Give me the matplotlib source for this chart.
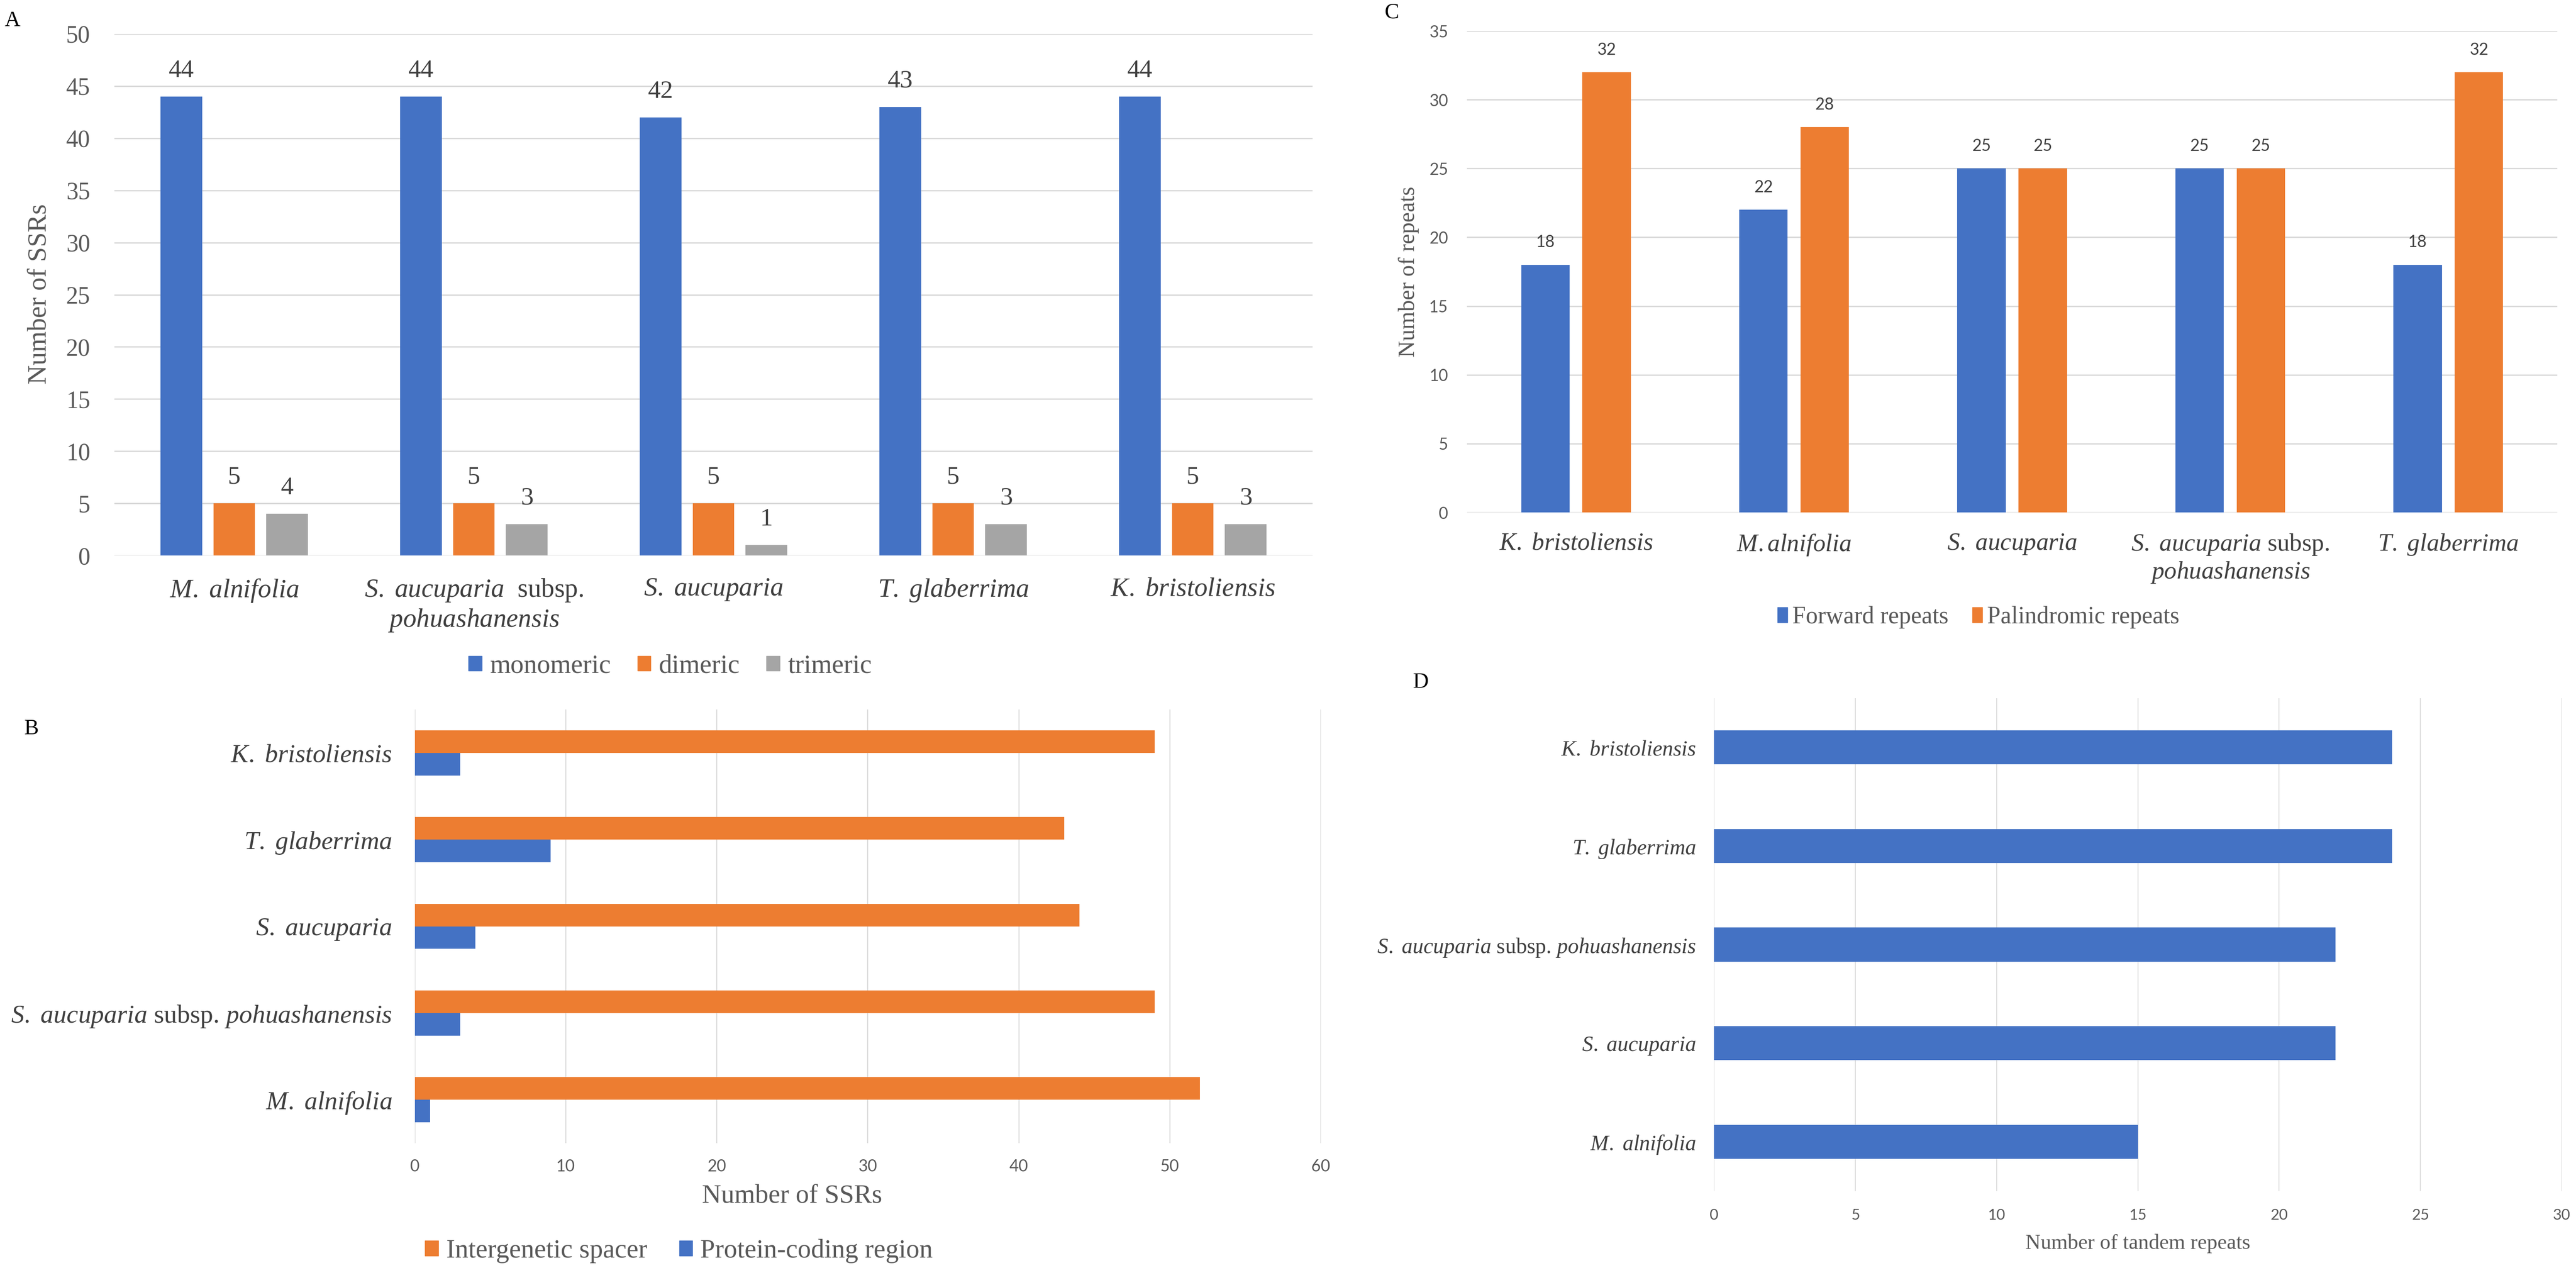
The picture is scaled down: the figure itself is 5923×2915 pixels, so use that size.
import numpy as np
import matplotlib
matplotlib.use("Agg")
import matplotlib.pyplot as plt
from matplotlib.patches import Patch

plt.rcParams['font.family'] = ['Liberation Serif', 'DejaVu Serif']
plt.rcParams['mathtext.fontset'] = 'custom'
plt.rcParams['mathtext.rm'] = 'Liberation Serif'
plt.rcParams['mathtext.it'] = 'Liberation Serif:italic'

# ---- data ----
# A: SSR types per species
species_a = ["M. alnifolia", "S. aucuparia subsp. pohuashanensis", "S. aucuparia",
             "T. glaberrima", "K. bristoliensis"]
monomeric = [44, 44, 42, 43, 44]
dimeric = [5, 5, 5, 5, 5]
trimeric = [4, 3, 1, 3, 3]

# B: SSR location (bottom to top)
species_b = ["M. alnifolia", "S. aucuparia subsp. pohuashanensis", "S. aucuparia",
             "T. glaberrima", "K. bristoliensis"]
intergenic = [52, 49, 44, 43, 49]
protein_coding = [1, 3, 4, 9, 3]

# C: long repeats
species_c = ["K. bristoliensis", "M.alnifolia", "S. aucuparia",
             "S. aucuparia subsp. pohuashanensis", "T. glaberrima"]
forward = [18, 22, 25, 25, 18]
palindromic = [32, 28, 25, 25, 32]

# D: tandem repeats (bottom to top)
species_d = ["M. alnifolia", "S. aucuparia", "S. aucuparia subsp. pohuashanensis",
             "T. glaberrima", "K. bristoliensis"]
tandem = [15, 22, 22, 24, 24]

BLUE = "#4472C4"
ORANGE = "#ED7D31"
GRAY = "#A5A5A5"
GRID = "#d9d9d9"
TXT = "#404040"
TICK = "#595959"
SANS = ["Lato", "DejaVu Sans"]

W, H = 5923, 2915


def box(l, t, r, b):
    return [l / W, 1 - b / H, (r - l) / W, (b - t) / H]


def it(s):
    return r"$\mathit{" + s.replace(" ", r"\ ") + "}$"


def label(s, sep="  ", wrap=False):
    # species name in italics, "subsp." upright
    if " subsp. " in s:
        a, b = s.split(" subsp. ")
        return it(a) + sep + "subsp." + ("\n" if wrap else " ") + it(b)
    return it(s)


def clean(ax):
    for sp in ax.spines.values():
        sp.set_visible(False)
    ax.set_axisbelow(True)


fig = plt.figure(figsize=(W / 100, H / 100), dpi=100)

# ---------------- A ----------------
ax = fig.add_axes(box(263, 78, 3018, 1277))
x = np.arange(len(species_a))
bw, step = 0.174, 0.221
for vals, col, off in [(monomeric, BLUE, -step), (dimeric, ORANGE, 0), (trimeric, GRAY, step)]:
    bars = ax.bar(x + off, vals, bw, color=col)
    ax.bar_label(bars, padding=24, fontsize=42, color=TXT)
ax.set_ylim(0, 50)
ax.set_xlim(-0.5, 4.5)
ax.set_yticks(np.arange(0, 51, 5))
ax.set_xticks(x)
ax.set_xticklabels([label(s, "  ", True) for s in species_a], fontsize=44, color=TXT)
ax.tick_params(axis='x', length=0, pad=36)
ax.tick_params(axis='y', length=0, pad=40, labelsize=40, labelcolor=TICK)
ax.yaxis.grid(True, color=GRID, lw=2.2)
clean(ax)
fig.text(91 / W, 1 - 676 / H, "Number of SSRs", rotation=90, ha='center', va='center',
         fontsize=44, color=TICK)
fig.legend([Patch(color=BLUE), Patch(color=ORANGE), Patch(color=GRAY)],
           ["monomeric", "dimeric", "trimeric"], ncol=3, loc='center',
           bbox_to_anchor=(1541 / W, 1 - 1532 / H), frameon=False, fontsize=44,
           handlelength=0.5, handleheight=0.5, handletextpad=0.3, columnspacing=1.0,
           labelcolor=TICK)
fig.text(29 / W, 1 - 48 / H, "A", ha='center', va='center', fontsize=36, color='black')

# ---------------- C ----------------
ax = fig.add_axes(box(3373, 71, 5880, 1178))
x = np.arange(len(species_c))
bw, off = 0.222, 0.1405
for vals, col, o in [(forward, BLUE, -off), (palindromic, ORANGE, off)]:
    bars = ax.bar(x + o, vals, bw, color=col)
    ax.bar_label(bars, padding=24, fontsize=27, color=TXT, family=SANS)
ax.set_ylim(0, 35)
ax.set_xlim(-0.5, 4.5)
ax.set_yticks(np.arange(0, 36, 5))
ax.set_xticks(x)
ax.set_xticklabels([label(s, " ", True) for s in species_c], fontsize=41, color=TXT)
ax.tick_params(axis='x', length=0, pad=33)
ax.tick_params(axis='y', length=0, pad=31, labelsize=27, labelcolor=TICK)
for t in ax.get_yticklabels():
    t.set_family(SANS)
ax.yaxis.grid(True, color=GRID, lw=2.2)
clean(ax)
fig.text(3239 / W, 1 - 625 / H, "Number of repeats", rotation=90, ha='center', va='center',
         fontsize=38, color=TICK)
fig.legend([Patch(color=BLUE), Patch(color=ORANGE)],
           ["Forward repeats", "Palindromic repeats"], ncol=2, loc='center',
           bbox_to_anchor=(4549 / W, 1 - 1419 / H), frameon=False, fontsize=40,
           handlelength=0.4, handleheight=0.6, handletextpad=0.2, columnspacing=1.0,
           labelcolor=TICK)
fig.text(3201 / W, 1 - 29 / H, "C", ha='center', va='center', fontsize=36, color='black')

# ---------------- B ----------------
ax = fig.add_axes(box(954, 1631, 3037, 2628))
y = np.arange(len(species_b))
bh = 0.26
ax.barh(y + bh / 2, intergenic, bh, color=ORANGE)
ax.barh(y - bh / 2, protein_coding, bh, color=BLUE)
ax.set_xlim(0, 60)
ax.set_ylim(-0.5, 4.5)
ax.set_xticks(np.arange(0, 61, 10))
ax.set_yticks(y)
ax.set_yticklabels([label(s, " ") for s in species_b], fontsize=43, color=TXT)
ax.tick_params(axis='y', length=0, pad=38)
ax.tick_params(axis='x', length=0, pad=26, labelsize=27, labelcolor=TICK)
for t in ax.get_xticklabels():
    t.set_family(SANS)
ax.xaxis.grid(True, color=GRID, lw=1.6)
clean(ax)
fig.text(1821 / W, 1 - 2750 / H, "Number of SSRs", ha='center', va='center',
         fontsize=44, color=TICK)
fig.legend([Patch(color=ORANGE), Patch(color=BLUE)],
           ["Intergenetic spacer", "Protein-coding region"], ncol=2, loc='center',
           bbox_to_anchor=(1561 / W, 1 - 2876 / H), frameon=False, fontsize=44,
           handlelength=0.5, handleheight=0.5, handletextpad=0.3, columnspacing=1.2,
           labelcolor=TICK)
fig.text(72 / W, 1 - 1676 / H, "B", ha='center', va='center', fontsize=36, color='black')

# ---------------- D ----------------
ax = fig.add_axes(box(3941, 1605, 5890, 2738))
y = np.arange(len(species_d))
ax.barh(y, tandem, 0.345, color=BLUE)
ax.set_xlim(0, 30)
ax.set_ylim(-0.5, 4.5)
ax.set_xticks(np.arange(0, 31, 5))
ax.set_yticks(y)
ax.set_yticklabels([label(s, " ") for s in species_d], fontsize=36, color=TXT)
ax.tick_params(axis='y', length=0, pad=30)
ax.tick_params(axis='x', length=0, pad=29, labelsize=25, labelcolor=TICK)
for t in ax.get_xticklabels():
    t.set_family(SANS)
ax.xaxis.grid(True, color=GRID, lw=1.4)
clean(ax)
fig.text(4916 / W, 1 - 2859 / H, "Number of tandem repeats", ha='center', va='center',
         fontsize=35, color=TICK)
fig.text(3267 / W, 1 - 1569 / H, "D", ha='center', va='center', fontsize=36, color='black')

fig.savefig("out.png", dpi=100, facecolor='white')
